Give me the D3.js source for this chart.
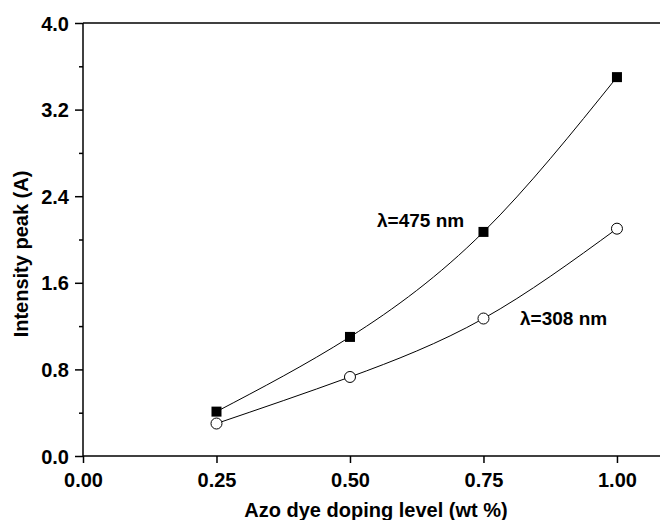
<!DOCTYPE html>
<html><head><meta charset="utf-8">
<script src="https://cdn.jsdelivr.net/npm/d3@7"></script>
<style>body{margin:0;background:#fff}svg{display:block}text{font-family:Arial,"Liberation Sans",sans-serif;font-weight:bold;fill:#000}</style>
</head><body><svg id="c" width="660" height="520"></svg>
<script>
const xValues = [0.25, 0.50, 0.75, 1.00];
const series475 = [0.41, 1.10, 2.07, 3.50];
const series308 = [0.30, 0.73, 1.27, 2.10];
const xTicks = [0.00, 0.25, 0.50, 0.75, 1.00];
const yTicks = [0.0, 0.8, 1.6, 2.4, 3.2, 4.0];
const yMinor = [0.4, 1.2, 2.0, 2.8, 3.6];

const svg = d3.select("#c");
const L = 83, R = 660, T = 23, B = 456;
const x = d3.scaleLinear().domain([0, 1.0806]).range([L, R]);
const y = d3.scaleLinear().domain([0, 4.0]).range([B, T]);

svg.append("line").attr("x1", L).attr("x2", R).attr("y1", T).attr("y2", T).attr("stroke", "#000").attr("stroke-width", 1.5);

const gx = svg.append("g").attr("transform", `translate(0,${B})`)
  .call(d3.axisBottom(x).tickValues(xTicks).tickFormat(d3.format(".2f")).tickSize(7).tickPadding(6));
const gy = svg.append("g").attr("transform", `translate(${L},0)`)
  .call(d3.axisLeft(y).tickValues(yTicks).tickFormat(d3.format(".1f")).tickSize(8).tickPadding(6));
svg.append("g").attr("transform", `translate(${L},0)`)
  .call(d3.axisLeft(y).tickValues(yMinor).tickFormat("").tickSize(4))
  .select(".domain").remove();
svg.selectAll(".domain").attr("stroke-width", 1.5);
svg.selectAll(".tick line").attr("stroke-width", 1.5);
gx.select(".domain").attr("d", `M${L},0H${R}`);
gy.select(".domain").attr("d", `M0,${B}V${T}`);
[gx, gy].forEach(g => g.attr("font-size", 20).attr("font-family", "Arial, 'Liberation Sans', sans-serif").attr("font-weight", "bold"));
gx.selectAll(".tick text").attr("font-size", 20).attr("y", 31).attr("dy", 0);
gy.selectAll(".tick text").attr("font-size", 20).attr("dy", "0.35em");

const line = d3.line().x((d, i) => x(xValues[i])).y(d => y(d)).curve(d3.curveNatural);
[series475, series308].forEach(s => {
  svg.append("path").attr("d", line(s)).attr("fill", "none").attr("stroke", "#000").attr("stroke-width", 1);
});

svg.selectAll(".sq").data(series475).enter().append("rect")
  .attr("x", (d, i) => x(xValues[i]) - 5).attr("y", d => y(d) - 5)
  .attr("width", 10).attr("height", 10).attr("fill", "#000");
svg.selectAll(".ci").data(series308).enter().append("circle")
  .attr("cx", (d, i) => x(xValues[i])).attr("cy", d => y(d)).attr("r", 5.5)
  .attr("fill", "#fff").attr("stroke", "#000").attr("stroke-width", 1);

svg.append("text").attr("x", 377).attr("y", 227).attr("font-size", 19).text("λ=475 nm");
svg.append("text").attr("x", 520).attr("y", 325).attr("font-size", 19).text("λ=308 nm");

svg.append("text").attr("x", 376).attr("y", 517).attr("text-anchor", "middle").attr("font-size", 20).text("Azo dye doping level (wt %)");
svg.append("text").attr("transform", "translate(28,254) rotate(-90)").attr("text-anchor", "middle").attr("font-size", 20).text("Intensity peak (A)");
</script></body></html>
